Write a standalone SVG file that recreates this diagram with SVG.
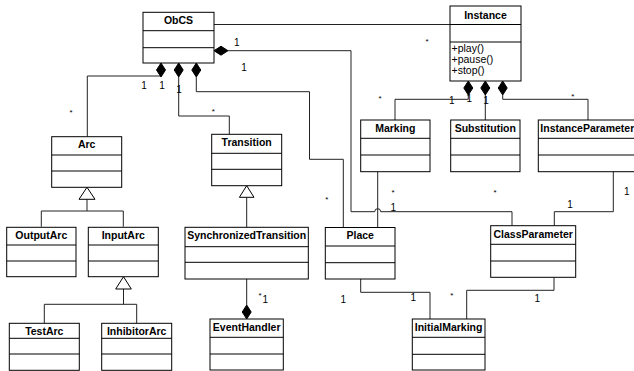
<svg xmlns="http://www.w3.org/2000/svg" width="634" height="371" viewBox="0 0 634 371">
<style>
.box{fill:#fff;stroke:#000;stroke-width:1}
.div{stroke:#000;stroke-width:1}
.name{font-family:"Liberation Sans",Arial,sans-serif;font-weight:bold;font-size:10.5px;text-anchor:middle;fill:#000}
.op{font-family:"Liberation Sans",Arial,sans-serif;font-size:10.5px;fill:#000}
.edge{fill:none;stroke:#222;stroke-width:1}
.dia{fill:#000;stroke:#000;stroke-width:1}
.tri{fill:#fff;stroke:#000;stroke-width:1}
.m{font-family:"Liberation Sans",Arial,sans-serif;font-size:10px;fill:#000;text-anchor:middle}
.s{font-family:"Liberation Sans",Arial,sans-serif;font-size:8px;fill:#000;text-anchor:middle}
</style>
<rect width="634" height="371" fill="#fff"/>
<g id="connectors">
<path class="edge" d="M214 24.5H450"/>
<path class="edge" d="M228 50.7H351V211.7H374.7A3 3 0 0 1 380.7 211.7H512V225.7"/>
<polygon class="dia" points="214,50.7 221,46.2 228,50.7 221,55.2"/>
<path class="edge" d="M161 76H87.3V136.7"/>
<path class="edge" d="M178.7 77V116H229.3V134.3"/>
<path class="edge" d="M196.3 77V91.7H309.5V159.3H343.3V227.5"/>
<polygon class="dia" points="161,63 165.5,70 161,77 156.5,70"/>
<polygon class="dia" points="178.7,63 183.2,70 178.7,77 174.2,70"/>
<polygon class="dia" points="196.3,63 200.8,70 196.3,77 191.8,70"/>
<path class="edge" d="M468.3 95V99.3H395V120"/>
<path class="edge" d="M485.3 95V120"/>
<path class="edge" d="M502.7 95V99.3H588V120"/>
<polygon class="dia" points="468.3,81 472.8,88 468.3,95 463.8,88"/>
<polygon class="dia" points="485.3,81 489.8,88 485.3,95 480.8,88"/>
<polygon class="dia" points="502.7,81 507.2,88 502.7,95 498.2,88"/>
<path class="edge" d="M377.7 171.7V227.5"/>
<path class="edge" d="M613.3 171.7V211.7H554.3V225.7"/>
<path class="edge" d="M87 199.3V211M41.3 226.7V211H123.3V226.7"/>
<polygon class="tri" points="87,187.3 95,199.3 79,199.3"/>
<path class="edge" d="M123.5 289V304.3M44.3 323.3V304.3H136.7V323.3"/>
<polygon class="tri" points="123.5,276.7 131.3,289 115.7,289"/>
<path class="edge" d="M246.7 197.3V227.3"/>
<polygon class="tri" points="246.7,185.7 254,197.3 239.4,197.3"/>
<path class="edge" d="M246.7 279V305"/>
<polygon class="dia" points="246.7,305 251.2,312 246.7,319 242.2,312"/>
<path class="edge" d="M360.7 279V292.3H430V319"/>
<path class="edge" d="M554 277.3V290.3H466.7V319"/>
<text class="m" x="236.7" y="45.6">1</text>
<text class="m" x="244" y="70.6">1</text>
<text class="m" x="144" y="88.6">1</text>
<text class="m" x="162" y="88.6">1</text>
<text class="m" x="179" y="93.3">1</text>
<text class="s" x="213.3" y="113.5">*</text>
<text class="s" x="71" y="115">*</text>
<text class="s" x="427" y="43.5">*</text>
<text class="s" x="380" y="100.5">*</text>
<text class="m" x="451.7" y="103.6">1</text>
<text class="m" x="469.3" y="101.9">1</text>
<text class="m" x="486" y="103.6">1</text>
<text class="s" x="572.7" y="98.5">*</text>
<text class="s" x="326.7" y="201.8">*</text>
<text class="s" x="393" y="194.5">*</text>
<text class="s" x="495" y="195">*</text>
<text class="m" x="393.3" y="210.6">1</text>
<text class="m" x="626.7" y="195.3">1</text>
<text class="m" x="570" y="208">1</text>
<text class="s" x="260" y="298">*</text>
<text class="m" x="265.2" y="302.5">1</text>
<text class="m" x="343.3" y="303">1</text>
<text class="m" x="413.3" y="301">1</text>
<text class="s" x="451.7" y="298">*</text>
<text class="m" x="537.3" y="302">1</text>
</g>
<g id="ObCS">
<rect class="box" x="143" y="12.3" width="71" height="50.7"/>
<path class="div" d="M143 30.7H214M143 47.7H214"/>
<text class="name" x="178.5" y="24.3">ObCS</text>
</g>
<g id="Instance">
<rect class="box" x="450" y="6" width="71" height="75"/>
<path class="div" d="M450 24.5H521M450 42H521"/>
<text class="name" x="485.5" y="19">Instance</text>
<text class="op" x="451.5" y="52">+play()</text>
<text class="op" x="451.5" y="63">+pause()</text>
<text class="op" x="451.5" y="74">+stop()</text>
</g>
<g id="Arc">
<rect class="box" x="51.7" y="136.7" width="70" height="50.6"/>
<path class="div" d="M51.7 155H121.7M51.7 171H121.7"/>
<text class="name" x="86.7" y="148.3">Arc</text>
</g>
<g id="Transition">
<rect class="box" x="211.7" y="134.3" width="70" height="51.4"/>
<path class="div" d="M211.7 153.3H281.7M211.7 169.3H281.7"/>
<text class="name" x="246.7" y="146">Transition</text>
</g>
<g id="Marking">
<rect class="box" x="360.7" y="120" width="69.3" height="51.7"/>
<path class="div" d="M360.7 138.3H430M360.7 155H430"/>
<text class="name" x="395.3" y="131.7">Marking</text>
</g>
<g id="Substitution">
<rect class="box" x="450.7" y="120" width="69.3" height="51.7"/>
<path class="div" d="M450.7 138.3H520M450.7 155H520"/>
<text class="name" x="485.3" y="131.7">Substitution</text>
</g>
<g id="InstanceParameter">
<rect class="box" x="538.3" y="120" width="98" height="51.7"/>
<path class="div" d="M538.3 138.3H636.3M538.3 155H636.3"/>
<text class="name" x="587.3" y="131.7">InstanceParameter</text>
</g>
<g id="OutputArc">
<rect class="box" x="6.7" y="227.3" width="69.3" height="49.4"/>
<path class="div" d="M6.7 245H76M6.7 261H76"/>
<text class="name" x="41.3" y="239">OutputArc</text>
</g>
<g id="InputArc">
<rect class="box" x="88.3" y="227.3" width="70" height="49.4"/>
<path class="div" d="M88.3 245H158.3M88.3 261H158.3"/>
<text class="name" x="123.3" y="239">InputArc</text>
</g>
<g id="TestArc">
<rect class="box" x="9.3" y="323.3" width="70" height="47"/>
<path class="div" d="M9.3 338.3H79.3M9.3 354H79.3"/>
<text class="name" x="44.3" y="335">TestArc</text>
</g>
<g id="InhibitorArc">
<rect class="box" x="101.7" y="323.3" width="70" height="47"/>
<path class="div" d="M101.7 338.3H171.7M101.7 354H171.7"/>
<text class="name" x="136.7" y="335">InhibitorArc</text>
</g>
<g id="SynchronizedTransition">
<rect class="box" x="185" y="227.3" width="123.3" height="51.7"/>
<path class="div" d="M185 246.7H308.3M185 262.3H308.3"/>
<text class="name" x="246.7" y="239">SynchronizedTransition</text>
</g>
<g id="EventHandler">
<rect class="box" x="210" y="319" width="73.3" height="51"/>
<path class="div" d="M210 337.3H283.3M210 354H283.3"/>
<text class="name" x="246.7" y="330.7">EventHandler</text>
</g>
<g id="Place">
<rect class="box" x="325.3" y="227.5" width="69.7" height="51.5"/>
<path class="div" d="M325.3 246H395M325.3 262.7H395"/>
<text class="name" x="360.2" y="239.2">Place</text>
</g>
<g id="ClassParameter">
<rect class="box" x="490.7" y="225.7" width="85" height="51.6"/>
<path class="div" d="M490.7 244.3H575.7M490.7 261H575.7"/>
<text class="name" x="533.2" y="237.5">ClassParameter</text>
</g>
<g id="InitialMarking">
<rect class="box" x="412.3" y="319" width="72.7" height="51"/>
<path class="div" d="M412.3 337.3H485M412.3 354.3H485"/>
<text class="name" x="448.6" y="330.7">InitialMarking</text>
</g>
</svg>
